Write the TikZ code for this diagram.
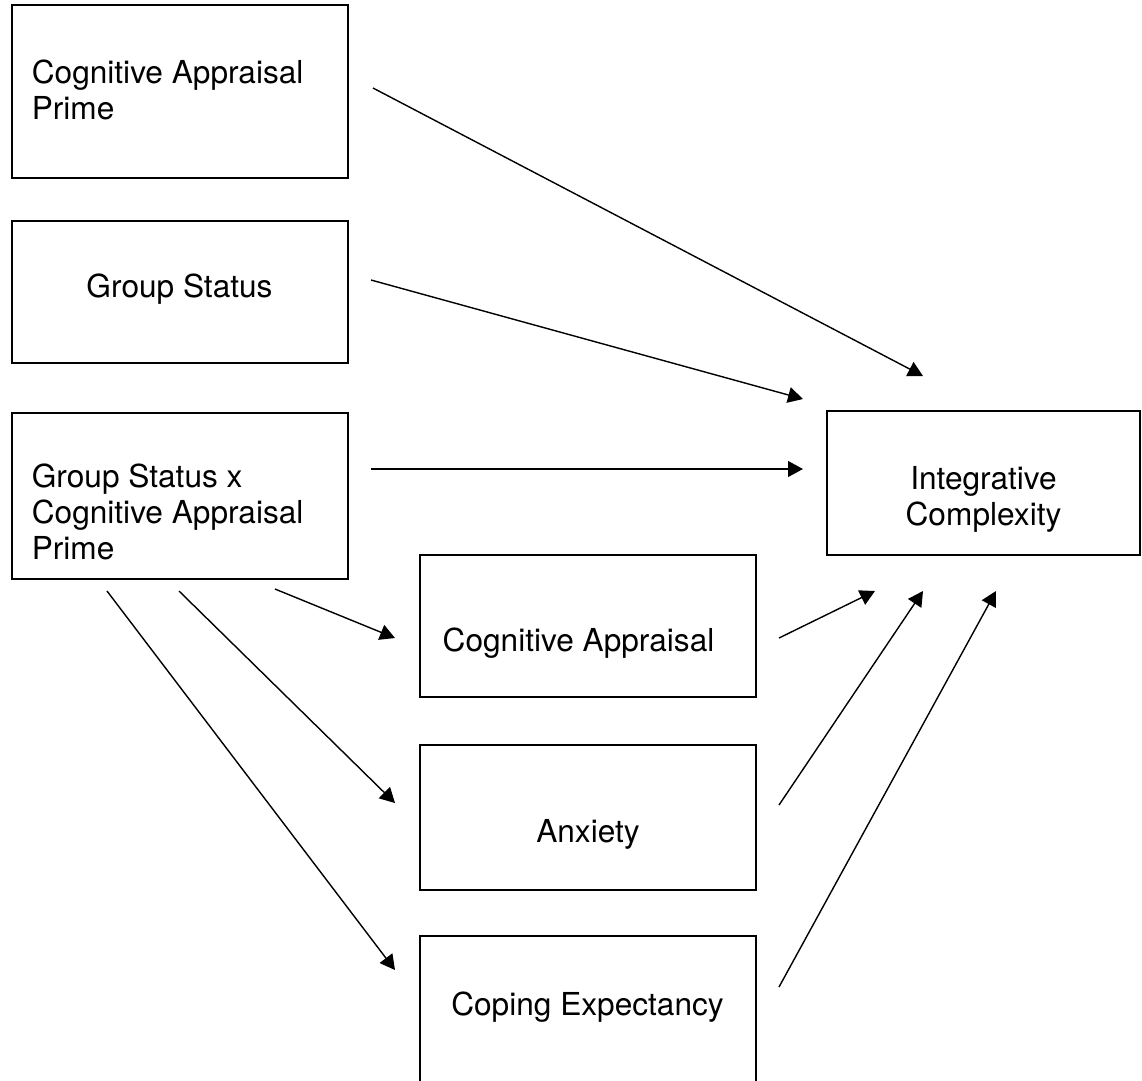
\documentclass[tikz,border=0pt]{standalone}
\usepackage{fontspec}
\setmainfont{TeX Gyre Heros}
\usepackage{tikz}
\usetikzlibrary{arrows.meta, positioning}
\tikzset{
    block/.style={rectangle, draw, line width=1pt, inner sep=0pt, minimum width=6.72cm},
    lbl/.style={inner sep=0pt, font=\fontsize{18}{20.5}\selectfont},
    arrow/.style={line width=0.8pt, -{Triangle[length=8.5pt, width=9pt]}}
}
\begin{document}
\begin{tikzpicture}[x=0.02cm, y=-0.02cm]
            \useasboundingbox (0,0) rectangle (1142,1080);
            % boxes
            \node[block, minimum height=3.46cm] (prime) at (180,91.5) {};
            \node[block, minimum height=2.84cm] (status) at (180,292) {};
            \node[block, minimum height=3.32cm] (inter) at (180,496) {};
            \node[block, minimum width=6.26cm, minimum height=2.88cm] (complex) at (983.5,483) {};
            \node[block, minimum height=2.84cm] (apprais) at (588,626) {};
            \node[block, minimum height=2.90cm] (anxiety) at (588,817.5) {};
            \node[block, minimum height=3.08cm] (coping) at (588,1013) {};

            % texts
            \node[lbl, align=left, anchor=north west] (primetxt) at (31.5,59.6) {Cognitive Appraisal\\Prime};
            \node[lbl, anchor=base] (statustxt) at (179.5,297) {Group Status};
            \node[lbl, align=left, anchor=north west] (intertxt) at (31.5,463.6) {Group Status x\\Cognitive Appraisal\\Prime};
            \node[lbl, align=center, anchor=north] (complextxt) at (983.5,466) {Integrative\\Complexity};
            \node[lbl, anchor=base] (appraistxt) at (578.5,651) {Cognitive Appraisal};
            \node[lbl, anchor=base] (anxietytxt) at (588,842) {Anxiety};
            \node[lbl, anchor=base] (copingtxt) at (587.5,1015) {Coping Expectancy};

            % arrow ends
            \coordinate (primeout) at (373,88);
            \coordinate (statusout) at (371,280);
            \coordinate (interout) at (371,469);
            \coordinate (interout1) at (275,589);
            \coordinate (interout2) at (179,591);
            \coordinate (interout3) at (107,591);
            \coordinate (appraisin) at (395,638);
            \coordinate (anxietyin) at (395,803);
            \coordinate (copingin) at (395,970);
            \coordinate (appraisout) at (779,638);
            \coordinate (anxietyout) at (779,805);
            \coordinate (copingout) at (779,987);
            \coordinate (complexin1) at (923,376);
            \coordinate (complexin2) at (803,399);
            \coordinate (complexin3) at (803,469);
            \coordinate (complexin4) at (875,591);
            \coordinate (complexin5) at (923,591);
            \coordinate (complexin6) at (996,591);

            \draw[arrow] (primeout) -- (complexin1);
            \draw[arrow] (statusout) -- (complexin2);
            \draw[arrow] (interout) -- (complexin3);
            \draw[arrow] (interout1) -- (appraisin);
            \draw[arrow] (interout2) -- (anxietyin);
            \draw[arrow] (interout3) -- (copingin);
            \draw[arrow] (appraisout) -- (complexin4);
            \draw[arrow] (anxietyout) -- (complexin5);
            \draw[arrow] (copingout) -- (complexin6);
        \end{tikzpicture}
\end{document}
